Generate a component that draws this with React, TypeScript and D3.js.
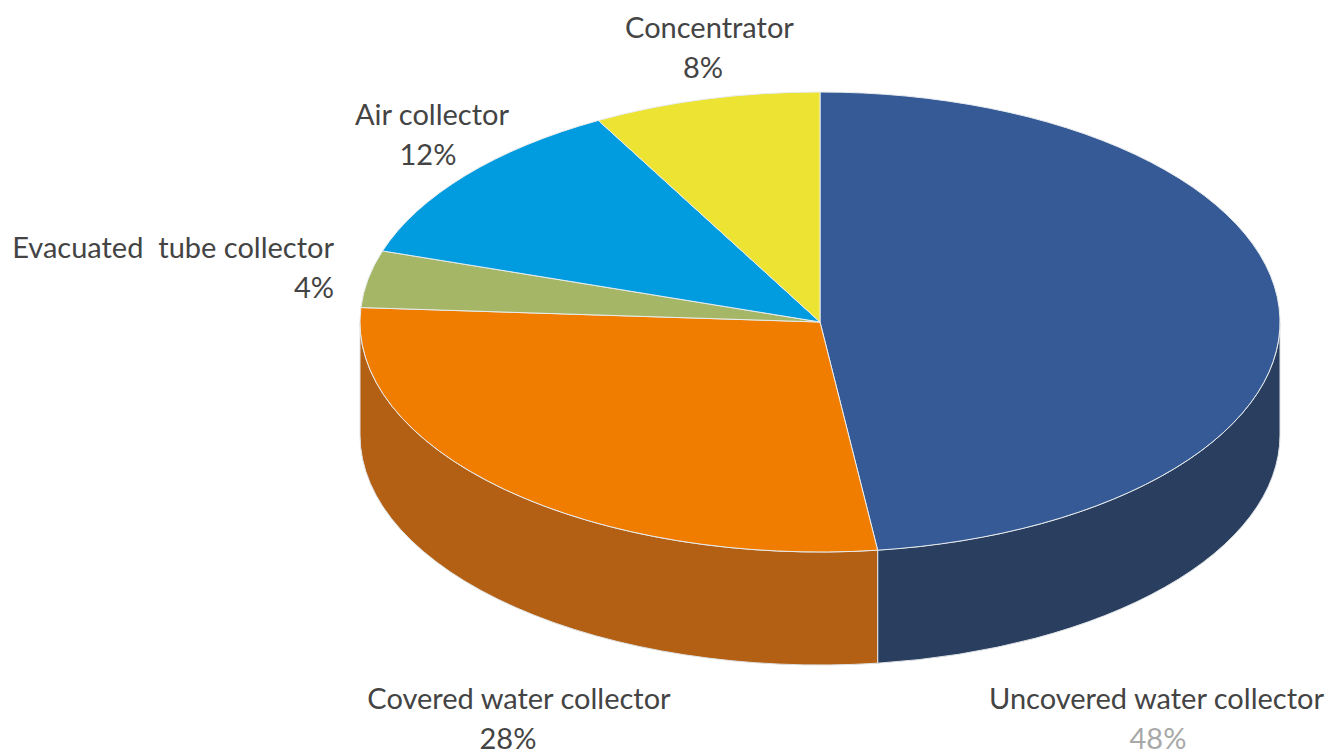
import { useEffect, useRef } from "react";
import * as d3 from "d3";

const categories = [
  "Uncovered water collector",
  "Covered water collector",
  "Evacuated  tube collector",
  "Air collector",
  "Concentrator",
];
const shares = [48, 28, 4, 12, 8];
const topColors = ["#355a95", "#f07d00", "#a5b766", "#009cdf", "#ece332"];
const sideColors = ["#2a3f60", "#b46014", "#7f8c4e", "#0077aa", "#b5ae26"];
// name position and the percent's own x (they are not centred on each other)
const labelSpots = [
  { x: 1156.5, y: 709, px: 1158, anchor: "middle" },
  { x: 519, y: 709, px: 508, anchor: "middle" },
  { x: 334, y: 258, px: 334, anchor: "end" },
  { x: 432, y: 125, px: 428, anchor: "middle" },
  { x: 709.5, y: 38, px: 703, anchor: "middle" },
];

const width = 1329;
const height = 754;
const cx = 820;
const cy = 322;
const rx = 460;
const ry = 230;
const depth = 113;

export default function App() {
  const svgRef = useRef<SVGSVGElement>(null);

  useEffect(() => {
    const svg = d3.select(svgRef.current);
    svg.selectAll("*").remove();

    const arcs = d3
      .pie<number>()
      .sort(null)
      .value((d) => d)(shares);

    const px = (a: number) => cx + rx * Math.sin(a);
    const py = (a: number) => cy - ry * Math.cos(a);

    // side wall, only the part of the rim facing the viewer
    arcs.forEach((d, i) => {
      const a0 = Math.max(d.startAngle, Math.PI / 2);
      const a1 = Math.min(d.endAngle, (3 * Math.PI) / 2);
      if (a0 >= a1) return;
      const rim =
        `M${px(a0)},${py(a0)}` +
        `A${rx},${ry} 0 0 1 ${px(a1)},${py(a1)}` +
        `L${px(a1)},${py(a1) + depth}` +
        `A${rx},${ry} 0 0 0 ${px(a0)},${py(a0) + depth}Z`;
      svg
        .append("path")
        .attr("d", rim)
        .attr("fill", sideColors[i])
        .attr("stroke", "#dfe3e6")
        .attr("stroke-width", 1);
    });

    const arc = d3
      .arc<d3.PieArcDatum<number>>()
      .innerRadius(0)
      .outerRadius(rx);

    const top = svg
      .append("g")
      .attr("transform", `translate(${cx},${cy}) scale(1,${ry / rx})`);

    top
      .selectAll("path")
      .data(arcs)
      .join("path")
      .attr("d", arc)
      .attr("fill", (_, i) => topColors[i])
      .attr("stroke", "#e8ecee")
      .attr("stroke-width", 1)
      .attr("vector-effect", "non-scaling-stroke");

    const labels = svg
      .append("g")
      .attr("font-family", "Lato, 'Open Sans', sans-serif")
      .attr("font-size", 29)
      .attr("fill", "#444444");

    categories.forEach((name, i) => {
      const spot = labelSpots[i];
      const t = labels
        .append("text")
        .attr("text-anchor", spot.anchor)
        .style("white-space", "pre");
      t.append("tspan").attr("x", spot.x).attr("y", spot.y).text(name);
      t.append("tspan")
        .attr("x", spot.px)
        .attr("y", spot.y + 40)
        .attr("fill", i === 0 ? "#a8a8a8" : "#444444")
        .text(`${shares[i]}%`);
    });
  }, []);

  return (
    <svg
      ref={svgRef}
      width={width}
      height={height}
      style={{ position: "absolute", left: 0, top: 0, background: "#fff" }}
    ></svg>
  );
}
